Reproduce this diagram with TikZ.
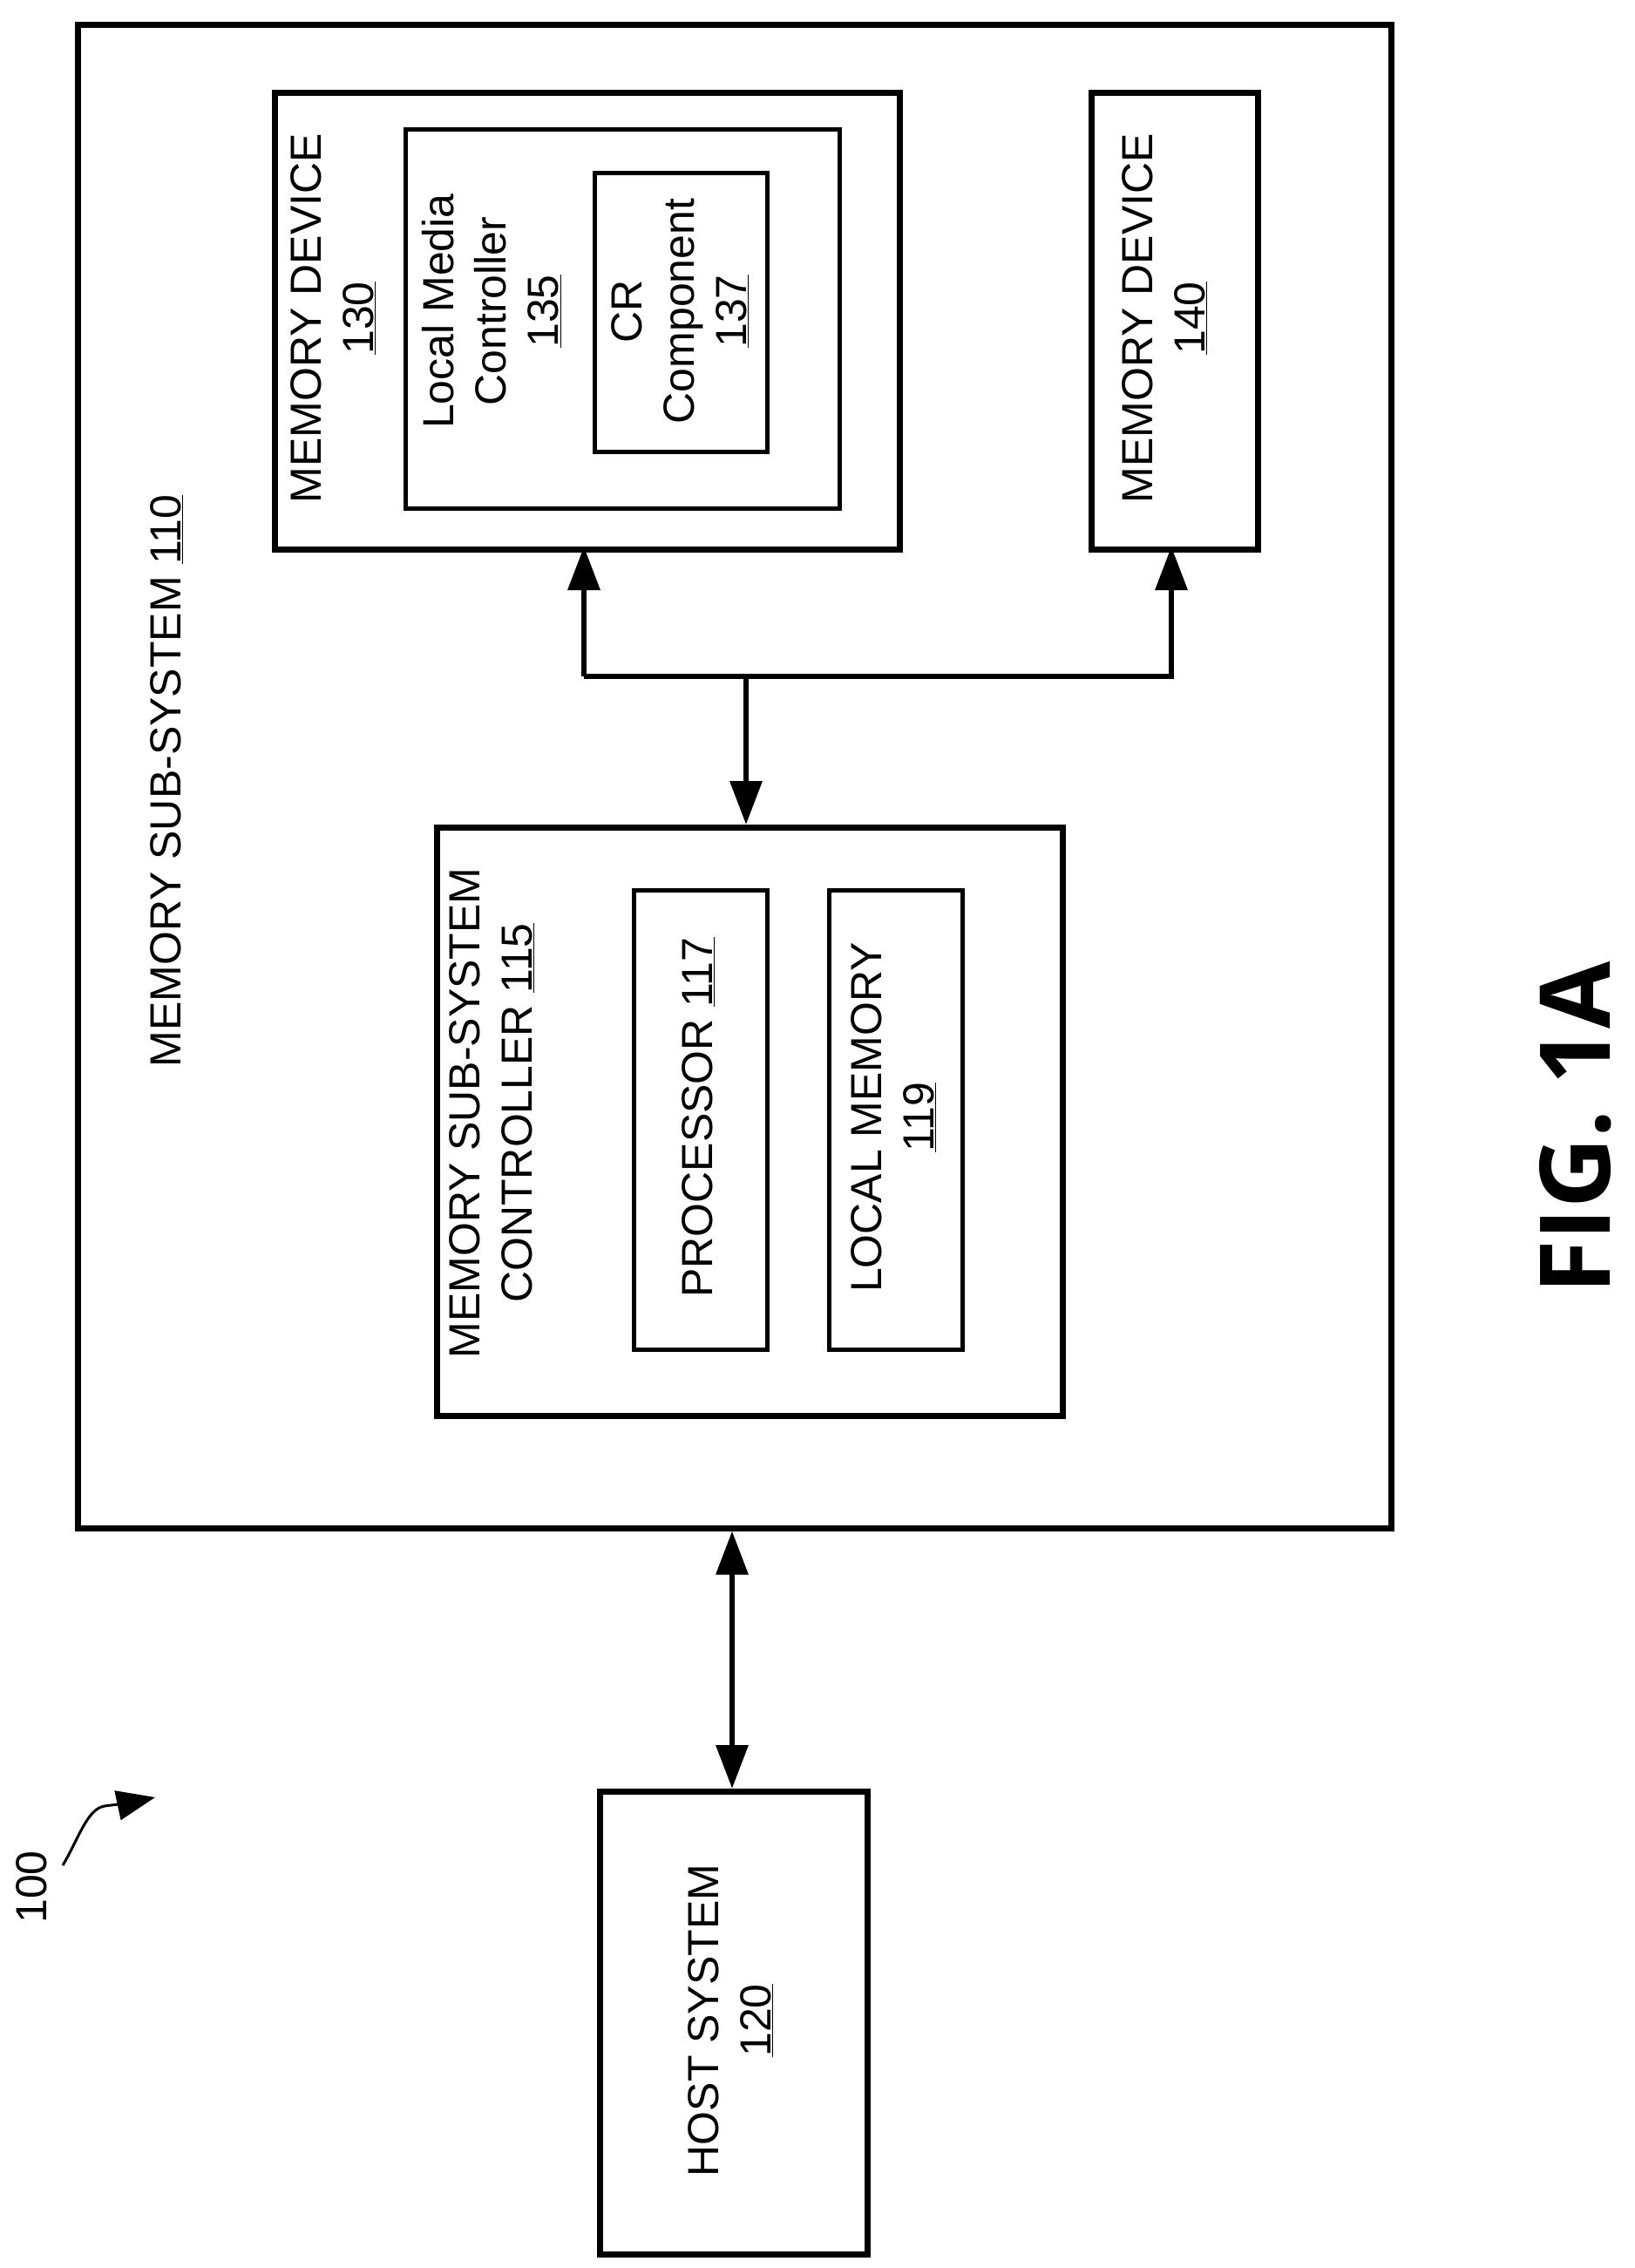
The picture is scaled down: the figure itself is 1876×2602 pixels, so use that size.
\documentclass[tikz,border=0pt]{standalone}
\usepackage{fontspec}
\setmainfont{Liberation Sans}
\newfontfamily\figfont{Open Sans}
\usetikzlibrary{arrows.meta}
\begin{document}
\begin{tikzpicture}[x=1pt,y=-1pt,
  box/.style={draw,line width=6.5pt},
  lbl/.style={rotate=90,align=center,font=\fontsize{50}{60}\selectfont},
  ar/.style={line width=6.5pt,-{Triangle[width=36pt,length=50pt]}},
  dar/.style={line width=6.5pt,{Triangle[width=36pt,length=50pt]}-{Triangle[width=36pt,length=50pt]}}]
\useasboundingbox (0,0) rectangle (1876,2602);
\node[box,minimum width=1507pt,minimum height=1725pt,anchor=north west] (sub) at (86,25) {};
\node[box,minimum width=717pt,minimum height=524pt,anchor=north west] (md130) at (312,103) {};
\node[box,minimum width=498pt,minimum height=435pt,anchor=north west,line width=5pt] (lmc) at (463,146) {};
\node[box,minimum width=198pt,minimum height=320pt,anchor=north west,line width=5pt] (cr) at (680,196) {};
\node[box,minimum width=191pt,minimum height=524pt,anchor=north west] (md140) at (1249,103) {};
\node[box,minimum width=718pt,minimum height=675pt,anchor=north west] (ctl) at (498,946) {};
\node[box,minimum width=153pt,minimum height=527pt,anchor=north west,line width=5pt] (proc) at (725,1019) {};
\node[box,minimum width=153pt,minimum height=527pt,anchor=north west,line width=5pt] (lmem) at (949,1019) {};
\node[box,minimum width=307pt,minimum height=531pt,anchor=north west] (host) at (685,2052) {};

\node[lbl] (t130) at (382,365) {MEMORY DEVICE\\\underline{130}};
\node[lbl] (t135) at (564,357) {Local Media\\Controller\\\underline{135}};
\node[lbl] (t137) at (780,357) {CR\\Component\\\underline{137}};
\node[lbl] (t140) at (1336,365) {MEMORY DEVICE\\\underline{140}};
\node[lbl] (t115) at (564,1277) {MEMORY SUB-SYSTEM\\CONTROLLER \underline{115}};
\node[lbl] (t117) at (801,1282) {PROCESSOR \underline{117}};
\node[lbl] (t119) at (1025,1282) {LOCAL MEMORY\\\underline{119}};
\node[lbl] (t110) at (191,896) {MEMORY SUB-SYSTEM \underline{110}};
\node[lbl] (t120) at (838,2318) {HOST SYSTEM\\\underline{120}};
\node[rotate=90,font=\figfont\bfseries\fontsize{112}{130}\selectfont] (fig) at (1808,1294) {FIG. 1A};
\node[rotate=90,font=\fontsize{50}{60}\selectfont] (n100) at (36,2165) {100};

\draw[ar] (670,776) -| (670,627);
\draw[ar] (670,776) -| (1344,627);
\draw[line width=6.5pt] (670,776) -- (856,776);
\draw[ar] (856,776) -- (ctl.north -| 856,0);
\draw[dar] (host.north -| 840,0) -- (sub.south -| 840,0);
\coordinate (s1) at (72,2140);
\coordinate (s2) at (178,2062);
\draw[line width=3pt,-{Triangle[width=34pt,length=44pt]}] (s1) .. controls (90,2110) and (100,2075) .. (120,2072) .. controls (135,2070) and (150,2068) .. (s2);
\end{tikzpicture}
\end{document}
